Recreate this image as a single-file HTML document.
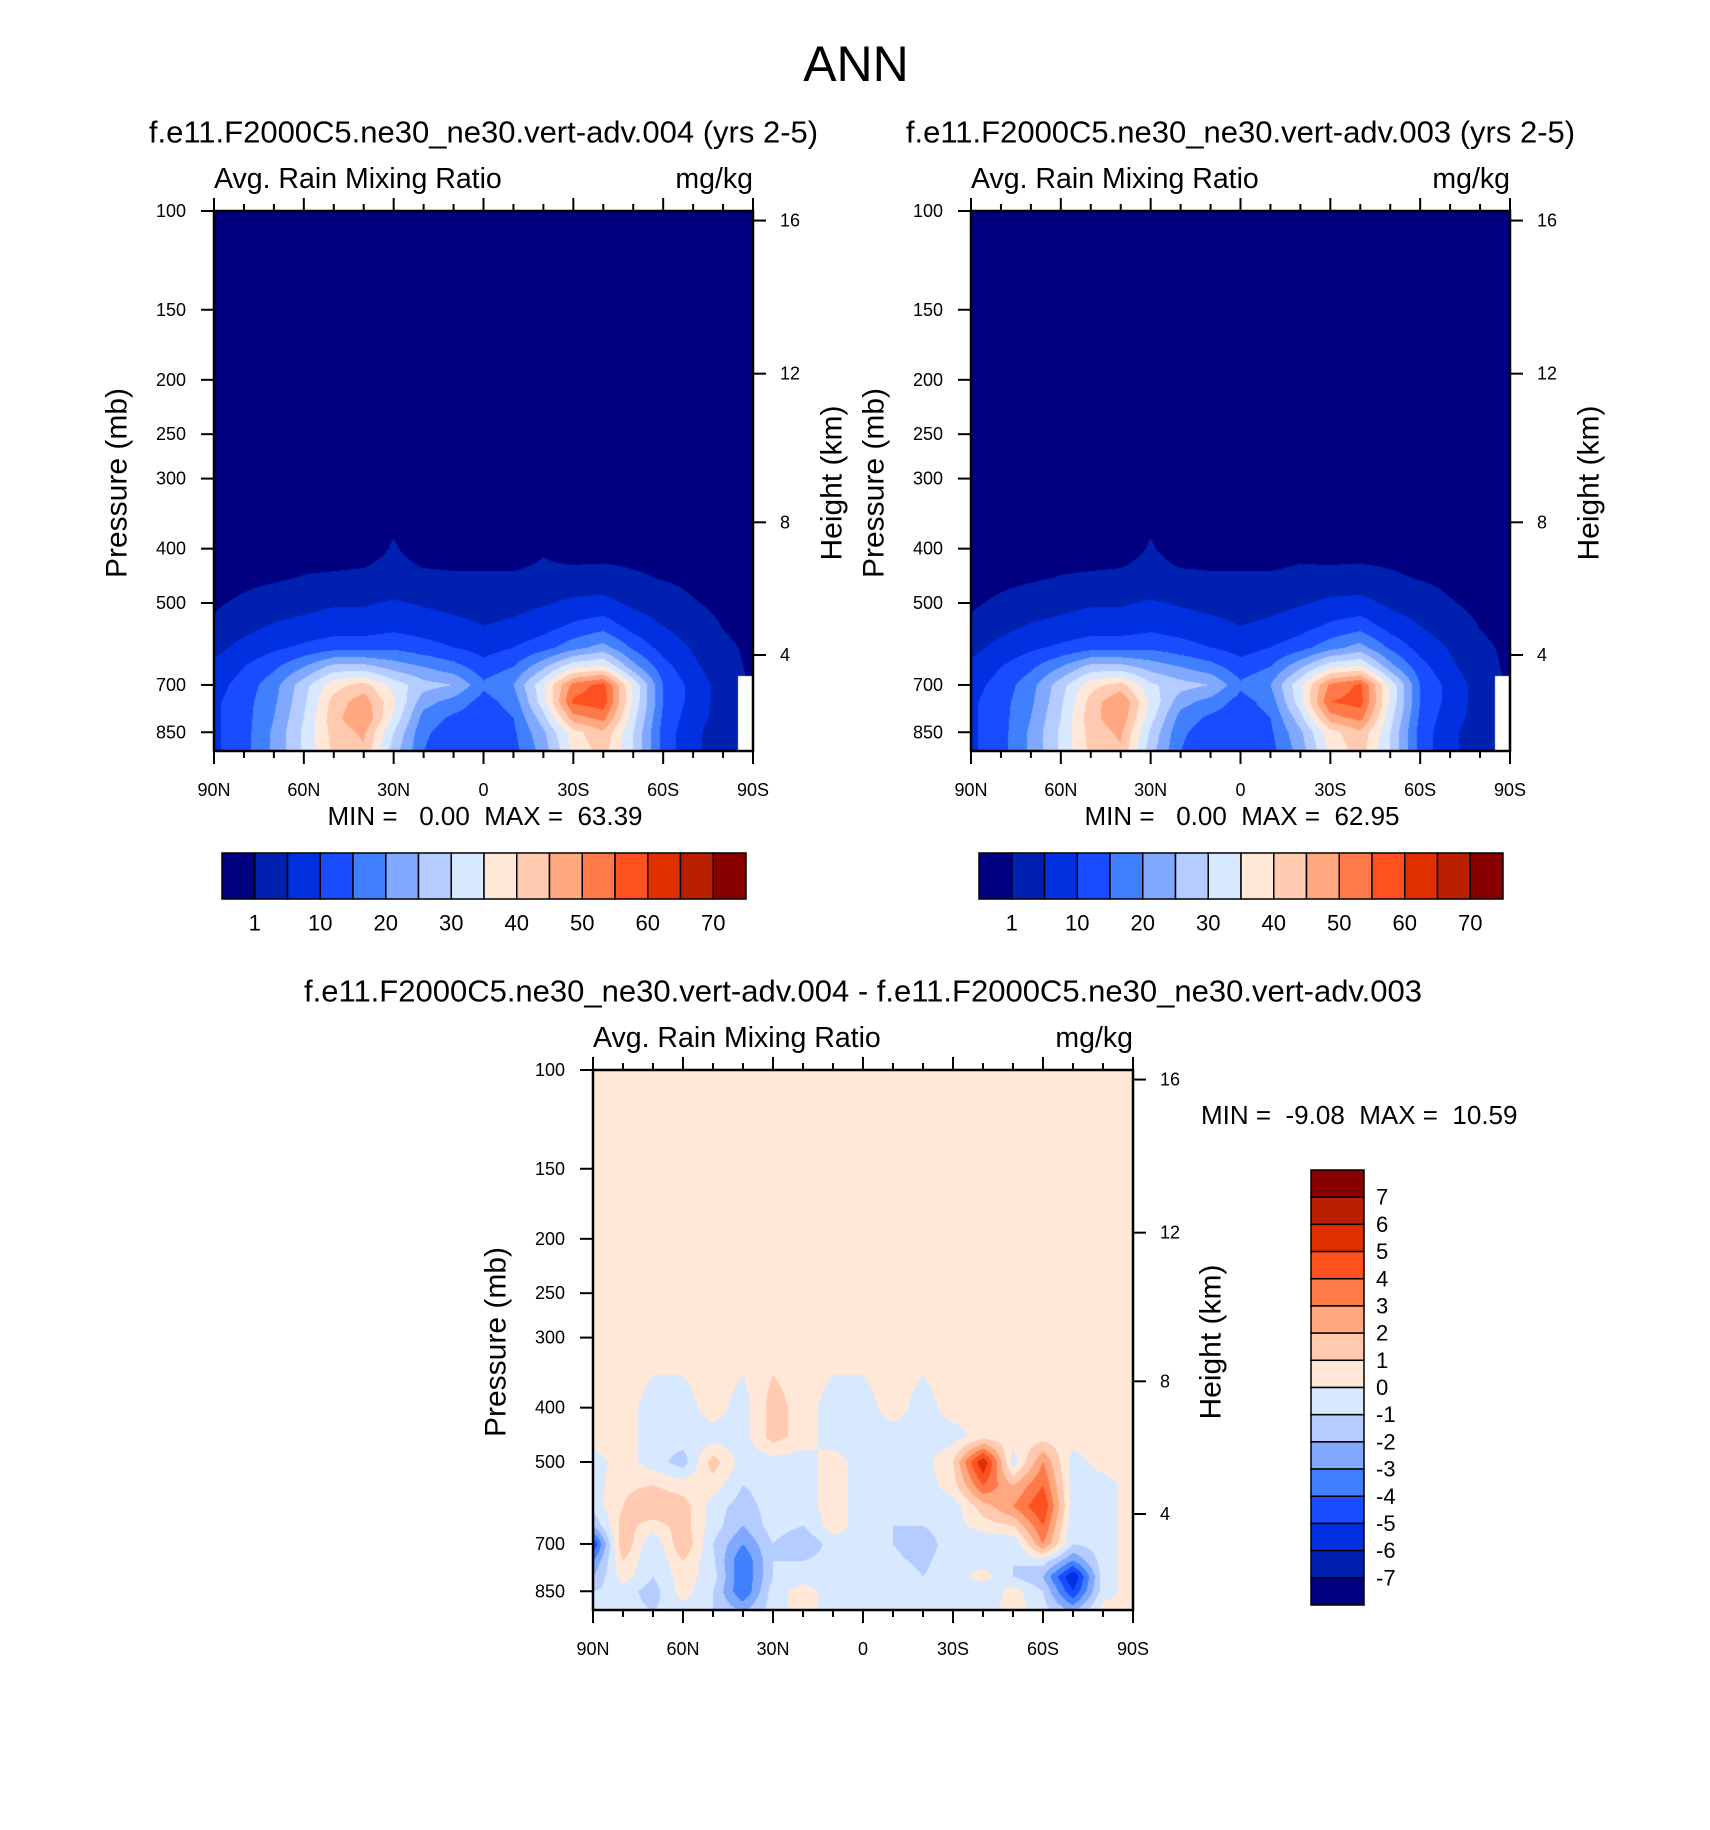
<!DOCTYPE html>
<html><head><meta charset="utf-8">
<style>
html,body{margin:0;padding:0;background:#fff;}
#root{position:relative;width:1710px;height:1830px;overflow:hidden;font-family:"Liberation Sans",sans-serif;}
canvas{position:absolute;}
svg{position:absolute;left:0;top:0;}
text{white-space:pre;}
</style></head>
<body>
<div id="root">
<canvas id="c1"></canvas>
<canvas id="c2"></canvas>
<canvas id="c3"></canvas>
<svg id="svg" width="1710" height="1830"></svg>
</div>
<script>
// ---- data ----
const lats = [90,80,70,60,50,40,30,20,10,0,-10,-20,-30,-40,-50,-60,-70,-80,-90];
const levels = [100,300,400,450,500,550,600,650,700,750,800,850,925];
const N = NaN;
const field004 = [
[0,0,0,0,0,0,0,0,0,0,0,0,0,0,0,0,0,0,0],
[0,0,0,0,0,0,0,0,0,0,0,0,0,0,0,0,0,0,0],
[0,0,0,0,0,0,1.2,0,0,0,0,0.8,0,0,0,0,0,0,0],
[0,0.3,0.6,1.1,1.3,1.5,2,1.5,1.3,1.3,1.3,1.5,1.8,2,1.4,0.8,0.3,0,0],
[0.6,1.5,2.5,3.5,4.5,4.5,5.5,4.5,3.5,3,3.5,4.5,6,6.5,4,2.5,1.2,0.3,0],
[1.5,3.5,5.5,6.5,7.5,7.5,8.5,7.5,6.5,5,6,8,11,13,8,5,2.5,0.9,0.2],
[3.5,6.5,9,11,13,13,14,12,10,8,10,13,18,22,14,8,4.5,1.5,0.5],
[6,10,14,20,27,27,23,20,17,12,15,24,34,36,22,12,6,2,0.5],
[8,12,18,28,38,42,33,27,25,16,20,34,52,57,34,15,8,3,N],
[9,13,19,29,42,48,36,22,18,13,17,33,56,58,34,15,8,3,N],
[9,13,20,30,43,50,34,18,14,12,15,28,48,52,32,14,7,3,N],
[9,13,21,31,42,46,30,16,12,10,14,24,38,44,30,13,6,2.5,N],
[9,13,21,31,41,44,27,15,10,10,13,22,36,42,30,13,6,2.5,N]];
const field003 = [
[0,0,0,0,0,0,0,0,0,0,0,0,0,0,0,0,0,0,0],
[0,0,0,0,0,0,0,0,0,0,0,0,0,0,0,0,0,0,0],
[0,0,0,0,0,0,1.2,0,0,0,0,0.5,0,0,0,0,0,0,0],
[0,0.3,0.6,1.1,1.3,1.5,2,1.5,1.3,1.3,1.3,1.5,1.8,2,1.4,0.8,0.3,0,0],
[0.6,1.5,2.5,3.5,4.5,4.5,5.5,4.5,3.5,3,3.5,4.5,6,6.5,4,2.5,1.2,0.3,0],
[1.5,3.5,5.5,6.5,7.5,7.5,8.5,7.5,6.5,5,6,8,11,13,8,5,2.5,0.9,0.2],
[3.5,6.5,9,11,13,13,14,12,10,8,10,13,18,22,14,8,4.5,1.5,0.5],
[6,10,14,20,27,27,23,20,17,12,15,24,34,36,22,12,6,2,0.5],
[8,12,18,28,38,42,31,27,25,16,20,34,51,56,34,15,8,3,N],
[9,13,19,29,42,50,34,22,18,13,17,33,55,57,34,15,8,3,N],
[9,13,20,30,43,49,32,18,14,12,15,28,48,52,32,14,7,3,N],
[9,13,21,31,42,46,29,16,12,10,14,24,38,44,30,13,6,2.5,N],
[9,13,21,31,41,44,27,15,10,10,13,22,36,42,30,13,6,2.5,N]];
const fieldDiff = [
[0.5,0.5,0.5,0.5,0.5,0.5,0.5,0.5,0.5,0.5,0.5,0.5,0.5,0.5,0.5,0.5,0.5,0.5,0.5],
[0.5,0.5,0.5,0.5,0.5,0.5,0.5,0.5,0.5,0.5,0.5,0.5,0.5,0.5,0.5,0.5,0.5,0.5,0.5],
[0.5,0.5,-0.5,-0.5,0.5,-0.5,1.5,0.5,-0.5,-0.5,0.5,-0.5,0.5,0.5,0.5,0.5,0.5,0.5,0.5],
[0.5,0.5,-0.5,-0.5,-0.5,-0.5,1.5,0.5,-0.5,-0.5,-0.5,-0.5,-0.5,0.5,0.5,0.5,0.5,0.5,0.5],
[-0.5,0.5,-0.5,-1.5,1.5,-0.5,-0.5,-0.5,0.5,-0.5,-0.5,-0.5,1,6,-0.5,3,-0.5,0.5,0.5],
[-0.5,0.8,1,0.5,0.5,-1,-0.5,-0.5,0.5,-0.5,-0.8,-0.5,0.5,4,2,4,-0.5,-0.5,0.5],
[-0.5,1,2,1.5,-0.5,-1.5,-0.5,-0.5,0.5,-0.5,-1,-0.5,-0.5,1.5,3,5,-0.5,-0.5,0.5],
[-2,1.5,0.5,1.5,-0.5,-2,-0.5,-1,0.5,-0.5,-1,-1,-0.5,0.5,1,4,-0.8,-0.5,0.5],
[-5,2,-1,2,-1,-3,-1,-2,-0.5,-0.5,-1,-1.5,-0.5,-1,-1,3,-1,-0.5,0.5],
[-3,1,-1,1,-0.8,-4,-1,-1,-0.5,-0.5,-0.8,-1.2,-0.5,-0.5,-1,-0.5,-3,-0.5,0.5],
[-2,0.5,-1,0.5,-0.5,-4,-1,-0.5,-0.5,-0.5,-0.5,-1,-0.5,0.5,-1,-2,-6,-0.5,0.5],
[-1,-0.5,-1.5,0.5,-1,-4,-0.5,0.5,-0.5,-0.5,-0.5,-0.5,-0.5,-1,0.5,-1,-5,-0.5,0.5],
[-1,-0.5,-1,-0.5,-1,-2,-0.5,0.5,-0.5,-0.5,-0.5,-0.5,-0.5,-0.5,0.5,-0.5,-2,0.5,0.5]];
const boundsAbs = [1,5,10,15,20,25,30,35,40,45,50,55,60,65,70];
const boundsDiff = [-7,-6,-5,-4,-3,-2,-1,0,1,2,3,4,5,6,7];
const absLabels = ["1","10","20","30","40","50","60","70"];
const diffLabels = ["7","6","5","4","3","2","1","0","-1","-2","-3","-4","-5","-6","-7"];
const pTicks = [100,150,200,250,300,400,500,700,850];
const hTickLabels = ["16","12","8","4"];
const hTickPressures = [104,195,359,619];
const xTickLats = [90,60,30,0,-30,-60,-90];
const xTickLabels = ["90N","60N","30N","0","30S","60S","90S"];
const palette = ["#000080","#0020b0","#0030e0","#1a4cff","#4080ff","#80a8ff","#b4ccff","#d8e8ff","#ffe8d8","#ffcab0","#ffa880","#ff7a48","#ff5020","#e03000","#b82000","#880000"];

// ---- helpers ----
const svg = document.getElementById('svg');
const NS = 'http://www.w3.org/2000/svg';
const PB = 918;
function mk(tag, attrs, parent){const e=document.createElementNS(NS,tag);for(const k in attrs)e.setAttribute(k,attrs[k]);(parent||svg).appendChild(e);return e;}
function txt(s,x,y,size,anchor,name,extra){
  const t=mk('text',Object.assign({x:x,y:y,'font-size':size,'text-anchor':anchor||'middle','dominant-baseline':'central','font-family':'Liberation Sans, sans-serif',fill:'#000'},extra||{}));
  t.textContent=s;
  
  
  return t;
}
function makeAxes(L,R,T,B){
  return {x:lat=>L+(90-lat)/180*(R-L), y:p=>T+Math.log(p/100)/Math.log(PB/100)*(B-T), L,R,T,B};
}
function colorIdx(v,bounds){let i=0;while(i<bounds.length&&v>=bounds[i])i++;return i;}
function drawField(cid,ax,field,bounds){
  const c=document.getElementById(cid);
  const w=ax.R-ax.L,h=ax.B-ax.T;
  c.width=w;c.height=h;c.style.left=ax.L+'px';c.style.top=ax.T+'px';
  const ctx=c.getContext('2d');const img=ctx.createImageData(w,h);
  const rgb=palette.map(s=>[parseInt(s.substr(1,2),16),parseInt(s.substr(3,2),16),parseInt(s.substr(5,2),16)]);
  const lnB=Math.log(PB/100);
  for(let py=0;py<h;py++){
    const p=100*Math.exp((py+0.5)/h*lnB);
    let r=0;while(r<levels.length-2&&p>levels[r+1])r++;
    let fy=(p-levels[r])/(levels[r+1]-levels[r]);fy=Math.max(0,Math.min(1,fy));
    for(let px=0;px<w;px++){
      const lat=90-(px+0.5)/w*180;
      const fc=(90-lat)/10;let c0=Math.min(Math.floor(fc),lats.length-2);const fx=fc-c0;
      const a=field[r][c0],b=field[r][c0+1],cc=field[r+1][c0],d=field[r+1][c0+1];
      const near=field[fy<0.5?r:r+1][fx<0.5?c0:c0+1];
      const o=(py*w+px)*4;
      if(isNaN(near)){img.data[o]=255;img.data[o+1]=255;img.data[o+2]=255;img.data[o+3]=255;continue;}
      const A=isNaN(a)?near:a,Bv=isNaN(b)?near:b,C=isNaN(cc)?near:cc,D=isNaN(d)?near:d;
      const v=(A*(1-fx)+Bv*fx)*(1-fy)+(C*(1-fx)+D*fx)*fy;
      const col=rgb[colorIdx(v,bounds)];
      img.data[o]=col[0];img.data[o+1]=col[1];img.data[o+2]=col[2];img.data[o+3]=255;
    }
  }
  ctx.putImageData(img,0,0);
}
function drawFrame(ax,prefix,titleText,minmax,mmPos,hLabelX){
  const g=mk('g',{});
  
  
  mk('rect',{x:ax.L,y:ax.T,width:ax.R-ax.L,height:ax.B-ax.T,fill:'none',stroke:'#000','stroke-width':2.5},g);
  for(let lat=90;lat>=-90;lat-=10){
    const major=lat%30===0;const x=ax.x(lat);const len=major?13:7;
    mk('line',{x1:x,y1:ax.B,x2:x,y2:ax.B+len,stroke:'#000','stroke-width':2},g);
    mk('line',{x1:x,y1:ax.T,x2:x,y2:ax.T-len,stroke:'#000','stroke-width':2},g);
  }
  xTickLats.forEach((lat,i)=>txt(xTickLabels[i],ax.x(lat),ax.B+39,18,'middle',prefix+'-x-tick-label'));
  pTicks.forEach(p=>{const y=ax.y(p);
    mk('line',{x1:ax.L-13,y1:y,x2:ax.L,y2:y,stroke:'#000','stroke-width':2},g);
    txt(String(p),ax.L-28,y,18,'end',prefix+'-y-tick-label');});
  hTickPressures.forEach((p,i)=>{const y=ax.y(p);
    mk('line',{x1:ax.R,y1:y,x2:ax.R+13,y2:y,stroke:'#000','stroke-width':2},g);
    txt(hTickLabels[i],ax.R+27,y,18,'start',prefix+'-height-tick-label');});
  txt('Pressure (mb)',0,0,30,'middle',prefix+'-y-axis-title',{transform:`translate(${ax.L-97},${(ax.T+ax.B)/2+2}) rotate(-90)`});
  txt('Height (km)',0,0,30,'middle',prefix+'-right-axis-title',{transform:`translate(${hLabelX},${(ax.T+ax.B)/2+2}) rotate(-90)`});
  txt('Avg. Rain Mixing Ratio',ax.L,ax.T-32,28.5,'start',prefix+'-variable-label');
  txt('mg/kg',ax.R,ax.T-32,28.5,'end',prefix+'-units-label');
  txt(titleText,(ax.L+ax.R)/2,ax.T-79,31,'middle',prefix+'-title');
  txt(minmax,mmPos[0],mmPos[1],26,mmPos[2],prefix+'-min-max');
}
function hColorbar(x0,x1,y0,y1,prefix){
  const w=(x1-x0)/palette.length;
  palette.forEach((c,i)=>{const r=mk('rect',{x:x0+i*w,y:y0,width:w,height:y1-y0,fill:c,stroke:'#000','stroke-width':1.5});
    
    });
  absLabels.forEach((s,i)=>txt(s,x0+(2*i+1)*w,y1+24,22,'middle',prefix+'-colorbar-label'));
}
function vColorbar(x0,x1,y0,y1){
  const h=(y1-y0)/palette.length;
  palette.slice().reverse().forEach((c,i)=>{const r=mk('rect',{x:x0,y:y0+i*h,width:x1-x0,height:h,fill:c,stroke:'#000','stroke-width':1.5});
    
    });
  diffLabels.forEach((s,i)=>txt(s,x1+12,y0+(i+1)*h,22,'start','diff-colorbar-label'));
}

// ---- panels ----
const ax1=makeAxes(214,753,211,751);
const ax2=makeAxes(971,1510,211,751);
const ax3=makeAxes(593,1133,1070,1610);
drawField('c1',ax1,field004,boundsAbs);
drawField('c2',ax2,field003,boundsAbs);
drawField('c3',ax3,fieldDiff,boundsDiff);
txt('ANN',856,64,50,'middle','figure-title');
drawFrame(ax1,'panel-004','f.e11.F2000C5.ne30_ne30.vert-adv.004 (yrs 2-5)','MIN =   0.00  MAX =  63.39',[485,816,'middle'],832);
drawFrame(ax2,'panel-003','f.e11.F2000C5.ne30_ne30.vert-adv.003 (yrs 2-5)','MIN =   0.00  MAX =  62.95',[1242,816,'middle'],1589);
drawFrame(ax3,'panel-diff','f.e11.F2000C5.ne30_ne30.vert-adv.004 - f.e11.F2000C5.ne30_ne30.vert-adv.003','MIN =  -9.08  MAX =  10.59',[1201,1115,'start'],1211);
hColorbar(222,746,853,899,'panel-004');
hColorbar(979,1503,853,899,'panel-003');
vColorbar(1311,1364,1170,1605);
</script>
</body></html>
